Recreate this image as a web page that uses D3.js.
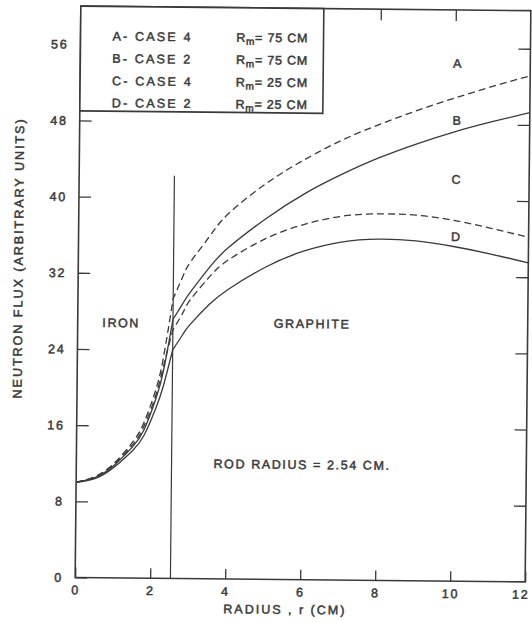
<!DOCTYPE html>
<html>
<head>
<meta charset="utf-8">
<script src="https://cdn.jsdelivr.net/npm/d3@7"></script>
<style>
  html, body { margin: 0; padding: 0; background: #ffffff; }
  svg { display: block; }
  text { font-family: "Liberation Sans", Arial, sans-serif; font-weight: normal; fill: #3a3a3a; stroke: #3a3a3a; stroke-width: 0.5px; }
</style>
</head>
<body>
<svg id="chart" width="532" height="622"></svg>
<script>
// Radial sample points (cm); 2.54 is the iron / graphite boundary
const radius = [0, 0.5, 1.0, 1.5, 1.8, 2.1, 2.3, 2.54, 2.8, 3.0, 3.5, 4.0, 5.0, 6.0, 7.0, 8.0, 9.0, 10.0, 11.0, 12.0];

// Neutron flux (arbitrary units) for each case
const fluxA = [10.0, 10.6, 12.0, 14.3, 16.4, 19.8, 23.3, 29.4, 31.8, 33.3, 36.0, 38.4, 41.6, 44.1, 46.2, 47.9, 49.4, 50.75, 52.0, 53.15];
const fluxB = [10.0, 10.5, 11.8, 13.8, 15.6, 18.8, 21.8, 27.2, 28.9, 30.1, 32.7, 34.8, 37.9, 40.5, 42.6, 44.4, 45.9, 47.2, 48.3, 49.3];
const fluxC = [10.0, 10.6, 11.9, 14.0, 16.0, 19.2, 22.3, 26.1, 27.9, 29.3, 31.7, 33.5, 35.8, 37.3, 38.2, 38.5, 38.4, 37.9, 37.1, 36.2];
const fluxD = [10.0, 10.4, 11.6, 13.4, 15.0, 17.8, 20.2, 24.0, 25.6, 26.7, 28.8, 30.4, 32.8, 34.5, 35.5, 35.85, 35.7, 35.15, 34.4, 33.5];

const seriesNames = ["A", "B", "C", "D"];
const seriesDashed = [true, false, true, false];
const labelFlux = [54.4, 48.4, 42.2, 36.2];
const labelRadius = 10.05;

const legendCases = ["A- CASE 4", "B- CASE 2", "C- CASE 4", "D- CASE 2"];
const legendRm = ["75 CM", "75 CM", "25 CM", "25 CM"];

const xTicks = [0, 2, 4, 6, 8, 10, 12];
const yTicks = [0, 8, 16, 24, 32, 40, 48, 56];
const rodRadius = 2.54;
const rodLineTop = 42.3;

const W = 532, H = 622;
const margin = { left: 78, right: 4, top: 8.4, bottom: 42.3 };

const svg = d3.select("#chart");
// the drawing sits slightly askew on the sheet
const g = svg.append("g").attr("transform", "rotate(0.57,303,294)");

const x = d3.scaleLinear().domain([0, 12]).range([margin.left, W - margin.right]);
const y = d3.scaleLinear().domain([0, 60]).range([H - margin.bottom, margin.top]);

const ink = "#3a3a3a";

// plot frame
g.append("rect")
  .attr("x", x(0)).attr("y", y(60))
  .attr("width", x(12) - x(0)).attr("height", y(0) - y(60))
  .attr("fill", "none").attr("stroke", ink).attr("stroke-width", 1.6);

function styleAxis(sel) {
  sel.select(".domain").remove();
  sel.selectAll(".tick line").attr("stroke", ink).attr("stroke-width", 1.3);
  sel.selectAll(".tick text")
    .attr("fill", ink)
    .style("font-family", '"Liberation Sans", Arial, sans-serif')
    .style("font-size", "12.5px")
    .style("letter-spacing", "1.8px");
}

// bottom axis: inward ticks with labels
const gx = g.append("g")
  .attr("transform", `translate(0,${y(0)})`)
  .call(d3.axisBottom(x).tickValues(xTicks).tickSize(-10).tickPadding(8).tickSizeOuter(0).tickFormat(d3.format("d")))
  .call(styleAxis);
gx.selectAll(".tick").filter(d => d === 12).select("text").attr("text-anchor", "end").attr("dx", 4);

// left axis: inward ticks with labels
g.append("g")
  .attr("transform", `translate(${x(0)},0)`)
  .call(d3.axisLeft(y).tickValues(yTicks).tickSize(-12).tickPadding(12).tickSizeOuter(0).tickFormat(d3.format("d")))
  .call(styleAxis);

// top and right axes: inward ticks only
g.append("g")
  .attr("transform", `translate(0,${y(60)})`)
  .call(d3.axisTop(x).tickValues(xTicks.slice(1, -1)).tickSize(-11).tickSizeOuter(0).tickFormat(""))
  .call(styleAxis);
g.append("g")
  .attr("transform", `translate(${x(12)},0)`)
  .call(d3.axisRight(y).tickValues(yTicks.slice(1)).tickSize(-12).tickSizeOuter(0).tickFormat(""))
  .call(styleAxis);

// iron / graphite boundary
g.append("line")
  .attr("x1", x(rodRadius)).attr("x2", x(rodRadius))
  .attr("y1", y(0)).attr("y2", y(rodLineTop))
  .attr("stroke", ink).attr("stroke-width", 1.2);

// flux curves: smooth within each material, joined at the boundary
const fluxSeries = [fluxA, fluxB, fluxC, fluxD];
const line = d3.line().x(d => x(d[0])).y(d => y(d[1])).curve(d3.curveNatural);
const iIface = radius.indexOf(rodRadius);

fluxSeries.forEach((flux, i) => {
  const pts = radius.map((r, k) => [r, flux[k]]);
  const iron = pts.slice(0, iIface + 1);
  const graphite = pts.slice(iIface);
  const d = line(iron) + line(graphite).replace(/^M/, "L");
  g.append("path")
    .attr("d", d)
    .attr("fill", "none")
    .attr("stroke", ink)
    .attr("stroke-width", 1.3)
    .attr("stroke-dasharray", seriesDashed[i] ? "7,4" : null);
});

// curve letters
seriesNames.forEach((name, i) => {
  g.append("text")
    .attr("x", x(labelRadius)).attr("y", y(labelFlux[i]))
    .attr("text-anchor", "middle").attr("dy", "0.36em")
    .style("font-size", "12.5px")
    .text(name);
});

// legend box in the upper left corner
const legendRight = 6.48, legendBottom = 49.0;
g.append("rect")
  .attr("x", x(0)).attr("y", y(60))
  .attr("width", x(legendRight) - x(0)).attr("height", y(legendBottom) - y(60))
  .attr("fill", "#fff").attr("stroke", ink).attr("stroke-width", 1.6);

const legendRowY = [56.9, 54.55, 52.2, 49.9];
legendCases.forEach((label, i) => {
  g.append("text")
    .attr("x", x(0.85)).attr("y", y(legendRowY[i])).attr("dy", "0.36em")
    .style("font-size", "12.5px").style("letter-spacing", "2.2px")
    .text(label);
  const t = g.append("text")
    .attr("x", x(4.15)).attr("y", y(legendRowY[i])).attr("dy", "0.36em")
    .style("font-size", "12.5px").style("letter-spacing", "0.8px");
  t.append("tspan").text("R");
  t.append("tspan").attr("dy", 3).style("font-size", "10px").text("m");
  t.append("tspan").attr("dy", -3).text("= " + legendRm[i]);
});

// material and rod annotations
const notes = [
  { text: "IRON", r: 1.16, f: 26.8 },
  { text: "GRAPHITE", r: 6.25, f: 26.9 },
  { text: "ROD RADIUS = 2.54 CM.", r: 6.02, f: 12.1 }
];
notes.forEach(n => {
  g.append("text")
    .attr("x", x(n.r)).attr("y", y(n.f)).attr("dy", "0.36em")
    .attr("text-anchor", "middle")
    .style("font-size", "12.5px").style("letter-spacing", "1.6px")
    .text(n.text);
});

// axis titles
g.append("text")
  .attr("x", x(5.6)).attr("y", H - 8)
  .attr("text-anchor", "middle")
  .style("font-size", "12.5px").style("letter-spacing", "2px")
  .text("RADIUS , r  (CM)");

g.append("text")
  .attr("transform", `translate(18,${y(33.5)}) rotate(-90)`)
  .attr("text-anchor", "middle").attr("dy", "0.36em")
  .style("font-size", "12.5px").style("letter-spacing", "2px")
  .text("NEUTRON  FLUX  (ARBITRARY  UNITS)");
</script>
</body>
</html>
